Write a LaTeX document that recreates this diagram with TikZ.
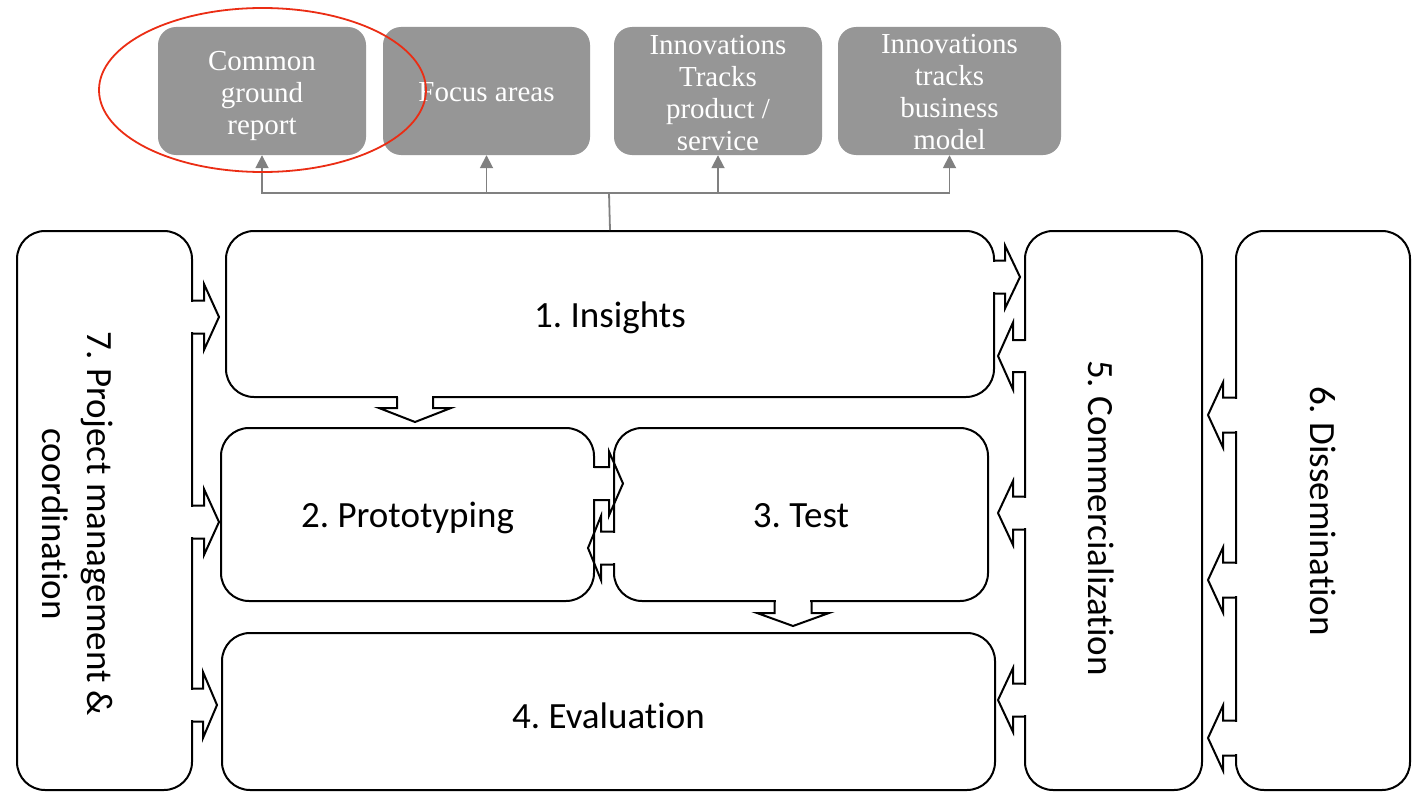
\documentclass[tikz,border=0pt]{standalone}
\usepackage{fontspec}
\setmainfont{Liberation Serif}
\newfontfamily\calib[Ligatures=NoCommon]{Carlito}
\usetikzlibrary{arrows.meta}
\definecolor{boxgray}{RGB}{150,150,150}
\definecolor{linegray}{RGB}{128,128,128}
\definecolor{ellred}{RGB}{235,45,20}
\tikzset{
 mainbox/.style={draw=black, line width=2pt, fill=white, rounded corners=28pt, inner sep=0pt, text height=26pt, text depth=0pt, font=\calib\fontsize{37}{45}\selectfont},
 topbox/.style={fill=boxgray, rounded corners=18pt, inner sep=0pt, minimum height=128pt},
 toptext/.style={text=white, align=center, inner sep=0pt, font=\fontsize{29}{32}\selectfont},
 feed/.style={draw=linegray, line width=1.8pt},
 feedarrow/.style={feed, -{Triangle[length=13pt,width=13pt]}},
 blockline/.style={line width=2pt, line join=miter},
 sidetext/.style={font=\calib\fontsize{37}{45}\selectfont, rotate=-90, align=center, inner sep=0pt},
}
% horizontal block arrow: base x, flange x, tip x, centre y, stub half, flange half, erase-start x
\newcommand\harr[7]{%
 \fill[white] (#7,#4-#5+1.2) rectangle (#2,#4+#5-1.2);
 \draw[blockline] (#1,#4-#5) -- (#2,#4-#5) -- (#2,#4-#6) -- (#3,#4) -- (#2,#4+#6) -- (#2,#4+#5) -- (#1,#4+#5);
}
% vertical block arrow: base y, flange y, tip y, centre x, stub half, flange half, erase-start y
\newcommand\varr[7]{%
 \fill[white] (#4-#5+1.2,#7) rectangle (#4+#5-1.2,#2);
 \draw[blockline] (#4-#5,#1) -- (#4-#5,#2) -- (#4-#6,#2) -- (#4,#3) -- (#4+#6,#2) -- (#4+#5,#2) -- (#4+#5,#1);
}
\begin{document}
\frenchspacing
\begin{tikzpicture}[x=1pt,y=-1pt]
\useasboundingbox (0,0) rectangle (1418,792);
\fill[white] (0,0) rectangle (1418,792);

% top grey boxes
\node[topbox, minimum width=208pt] (cg) at (262,91) {};
\node[topbox, minimum width=207pt] (fa) at (486.5,91) {};
\node[topbox, minimum width=208pt] (ip) at (718,91) {};
\node[topbox, minimum width=223pt] (ib) at (949.5,91) {};
\node[toptext] (cgt) at (262,96) {Common\\ground\\report};
\node[toptext] (fat) at (486.5,92) {Focus areas};
\node[toptext] (ipt) at (718,93) {Innovations\\Tracks\\product /\\service};
\node[toptext] (ibt) at (949.5,92) {Innovations\\tracks\\business\\model};

% main boxes
\node[mainbox, minimum width=768pt, minimum height=166pt] (ins) at (610,314) {1. Insights};
\node[mainbox, minimum width=373pt, minimum height=173pt] (pro) at (407.5,514.5) {2. Prototyping};
\node[mainbox, minimum width=374pt, minimum height=173pt] (tst) at (801,514.5) {3. Test};
\node[mainbox, minimum width=773pt, minimum height=157pt, text height=33pt] (eva) at (608.5,711.5) {4. Evaluation};
\node[mainbox, minimum width=175pt, minimum height=559pt] (pm) at (104.5,510.5) {};
\node[mainbox, minimum width=177pt, minimum height=559pt] (com) at (1113.5,510.5) {};
\node[mainbox, minimum width=174pt, minimum height=559pt] (dis) at (1323,510.5) {};

\node[sidetext] (pmt) at (78,524) {7. Project management \&\\coordination};
\node[sidetext] (comt) at (1101,518) {5. Commercialization};
\node[sidetext] (dist) at (1323,511) {6. Dissemination};

% grey feed connectors
\coordinate (hub) at (609,193);
\draw[feed] (ins.north) -- (hub);
\draw[feedarrow] (hub) -| (cg.south);
\draw[feedarrow] (hub) -| (fa.south);
\draw[feedarrow] (hub) -| (ip.south);
\draw[feedarrow] (hub) -| (ib.south);

% red ellipse
\draw[ellred, line width=1.8pt] (262.5,90) ellipse [x radius=163.5, y radius=82];

% block arrows 7 -> 1,2,4
\harr{192}{204}{219}{317}{16.5}{33}{189}
\harr{192}{204}{219}{522}{16.5}{33}{189}
\harr{192}{203}{217}{705}{16.5}{33}{189}

% 1 -> 2, 3 -> 4
\varr{397}{408}{422}{415}{18}{36}{394}
\varr{601}{613}{626}{793}{18.5}{36}{598}

% 2 <-> 3
\harr{594}{609}{623}{483.5}{16.5}{32}{591}
\harr{614}{601}{588}{548}{16.5}{32}{617}

% 1 -> 5
\harr{994}{1005}{1020}{277}{16.5}{31.5}{991}
% 5 -> 1,3,4
\harr{1025}{1013}{998}{356}{16}{33.5}{1028}
\harr{1025}{1013}{998}{513}{16.5}{32}{1028}
\harr{1025}{1013}{998}{700}{16.5}{32}{1028}
% 6 -> 5
\harr{1236}{1223}{1208}{415}{17.5}{32.5}{1239}
\harr{1236}{1223}{1208}{580}{17.5}{32.5}{1239}
\harr{1236}{1223}{1208}{738}{17.5}{32.5}{1239}
\end{tikzpicture}
\end{document}
